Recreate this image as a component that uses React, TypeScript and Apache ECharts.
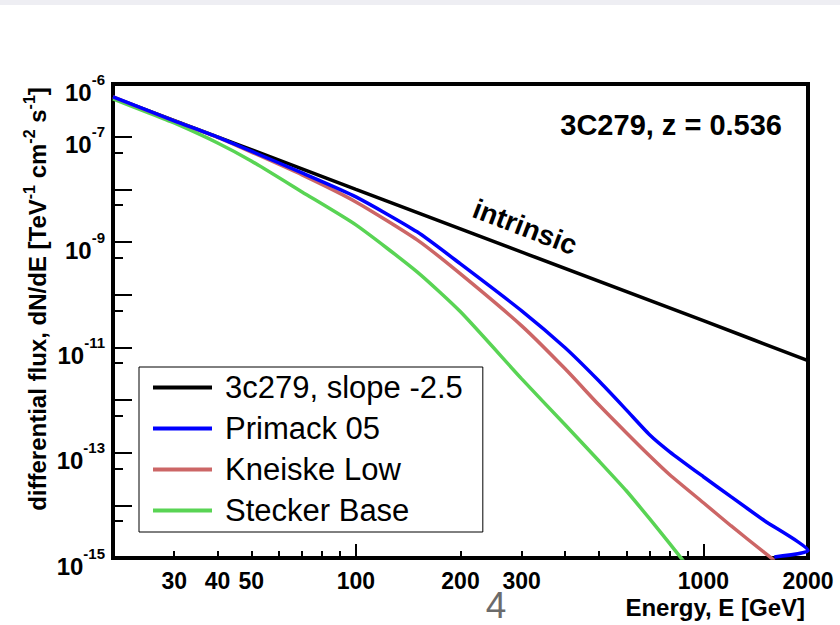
import React, { useEffect, useRef } from "react";
import * as echarts from "echarts";

const FONT = '"Liberation Sans", Arial, Helvetica, sans-serif';

// Energy (GeV) and differential flux (TeV^-1 cm^-2 s^-1)
const intrinsicE = [20, 100, 1000, 2000];
const intrinsicFlux = [5.6e-7, 1.0e-8, 3.2e-11, 5.6e-12];

const primackE = [20, 30, 40, 50, 70, 100, 150, 200, 300, 400, 500, 600, 700, 800, 1000, 1200, 1500, 2000, 1600];
const primackFlux = [5.67e-7, 2.0e-7, 9.8e-8, 5.3e-8, 2.05e-8, 7.2e-9, 1.56e-9, 3.84e-10, 4.93e-11, 9.79e-12, 2.31e-12, 6.5e-13, 2.19e-13, 1.04e-13, 3.49e-14, 1.46e-14, 5.1e-15, 1.38e-15, 1.05e-15];

const kneiskeE = [20, 30, 40, 50, 70, 100, 150, 200, 300, 400, 500, 600, 700, 800, 1000, 1200, 1500, 1600];
const kneiskeFlux = [5.67e-7, 1.99e-7, 9.7e-8, 5.1e-8, 1.88e-8, 5.77e-9, 1.1e-9, 2.48e-10, 2.56e-11, 3.91e-12, 8.11e-13, 2.39e-13, 8.73e-14, 3.81e-14, 1.12e-14, 4.1e-15, 1.26e-15, 9e-16];

const steckerE = [20, 25, 30, 40, 50, 70, 100, 150, 200, 300, 400, 500, 600, 700, 800, 900];
const steckerFlux = [5.2e-7, 2.94e-7, 1.82e-7, 7.59e-8, 3.46e-8, 8.93e-9, 2.11e-9, 2.71e-10, 4.72e-11, 2.52e-12, 3.38e-13, 7.01e-14, 1.89e-14, 5.57e-15, 1.87e-15, 7e-16];

const seriesNames = ["3c279, slope -2.5", "Primack 05", "Kneiske Low", "Stecker Base"];

// Axis ticks and labels
const xLabelValues = [30, 40, 50, 100, 200, 300, 1000, 2000];
const xMajorTicks = [100, 1000];
const xMinorTicks = [30, 40, 50, 60, 70, 80, 90, 200, 300, 400, 500, 600, 700, 800, 900];
const yLabelValues = [1e-15, 1e-13, 1e-11, 1e-9, 1e-7, 1e-6];
const yMajorTicks = [1e-15, 1e-14, 1e-13, 1e-12, 1e-11, 1e-10, 1e-9, 1e-8, 1e-7, 1e-6];
const yMinorTicks = [5e-15, 5e-14, 5e-13, 5e-12, 5e-11, 5e-10, 5e-9, 5e-8];

const pairs = (xs: number[], ys: number[]) => xs.map((x, i) => [x, ys[i]]);

export default function App() {
  const ref = useRef<HTMLDivElement>(null);

  useEffect(() => {
    const chart = echarts.init(ref.current as HTMLDivElement, null, { renderer: "svg" });

    const tickStyle = { color: "#000", width: 2 };
    const baseX = {
      type: "log",
      logBase: 10,
      min: 20,
      max: 2000,
      position: "bottom",
      gridIndex: 0,
      axisLine: { show: false },
      splitLine: { show: false },
      minorTick: { show: false },
    };
    const baseY = {
      type: "log",
      logBase: 10,
      min: 1e-15,
      max: 1e-6,
      position: "left",
      gridIndex: 0,
      axisLine: { show: false },
      splitLine: { show: false },
      minorTick: { show: false },
    };
    const lineSeries = (name: string, xs: number[], ys: number[], color: string, z: number) => ({
      name,
      type: "line",
      data: pairs(xs, ys),
      symbol: "none",
      smooth: 0.2,
      color,
      lineStyle: { color, width: 3.5 },
      silent: true,
      z,
    });

    const option: any = {
      animation: false,
      backgroundColor: "#ffffff",
      grid: {
        left: 113,
        top: 84,
        right: 32,
        bottom: 67,
        show: true,
        borderColor: "#000",
        borderWidth: 4,
        backgroundColor: "transparent",
        containLabel: false,
        outerBoundsMode: "none",
      },
      legend: {
        data: seriesNames,
        orient: "vertical",
        left: 139,
        top: 367,
        padding: [5, 20, 6, 14],
        itemGap: 10,
        itemWidth: 59,
        itemHeight: 4,
        icon: "rect",
        borderColor: "#000",
        borderWidth: 1,
        backgroundColor: "#fff",
        selectedMode: false,
        textStyle: { fontSize: 31, fontFamily: FONT, color: "#000", lineHeight: 31, padding: [0, 0, 0, 8] },
      },
      xAxis: [
        {
          ...baseX,
          axisTick: { show: true, inside: true, length: 14, lineStyle: tickStyle, customValues: xMajorTicks },
          axisLabel: {
            show: true,
            customValues: xLabelValues,
            margin: 11,
            color: "#000",
            fontSize: 23,
            fontWeight: "bold",
            fontFamily: FONT,
            formatter: (v: number) => String(Math.round(v)),
          },
        },
        {
          ...baseX,
          axisTick: { show: true, inside: true, length: 7, lineStyle: tickStyle, customValues: xMinorTicks },
          axisLabel: { show: false },
        },
      ],
      yAxis: [
        {
          ...baseY,
          axisTick: { show: true, inside: true, length: 19, lineStyle: tickStyle, customValues: yMajorTicks },
          axisLabel: {
            show: true,
            customValues: yLabelValues,
            margin: 8,
            color: "#000",
            formatter: (v: number) => `{b|10}{s|${Math.round(Math.log10(v))}}`,
            rich: {
              b: { fontSize: 24, fontWeight: "bold", fontFamily: FONT, color: "#000", lineHeight: 24, padding: [16, 0, 0, 0] },
              s: { fontSize: 15, fontWeight: "bold", fontFamily: FONT, color: "#000", lineHeight: 15, padding: [0, 0, 10, 0] },
            },
          },
        },
        {
          ...baseY,
          axisTick: { show: true, inside: true, length: 10, lineStyle: tickStyle, customValues: yMinorTicks },
          axisLabel: { show: false },
        },
      ],
      series: [
        lineSeries(seriesNames[0], intrinsicE, intrinsicFlux, "#000000", 2),
        lineSeries(seriesNames[3], steckerE, steckerFlux, "#59d454", 3),
        lineSeries(seriesNames[2], kneiskeE, kneiskeFlux, "#cc6666", 4),
        lineSeries(seriesNames[1], primackE, primackFlux, "#0000ff", 5),
      ],
      graphic: [
        { type: "rect", shape: { x: 0, y: 0, width: 840, height: 5 }, style: { fill: "#eeeef3" }, silent: true },
        {
          type: "text",
          x: 782,
          y: 125,
          style: { text: "3C279, z = 0.536", fontSize: 29, fontWeight: "bold", fontFamily: FONT, fill: "#000", align: "right", verticalAlign: "middle" },
        },
        {
          type: "text",
          x: 525,
          y: 227,
          rotation: (-21 * Math.PI) / 180,
          style: { text: "intrinsic", fontSize: 28, fontWeight: "bold", fontFamily: FONT, fill: "#000", align: "center", verticalAlign: "middle" },
        },
        {
          type: "text",
          x: 37,
          y: 299,
          rotation: Math.PI / 2,
          style: {
            text: "{b|differential flux, dN/dE [TeV}{s|-1}{b| cm}{s|-2}{b| s}{s|-1}{b|]}",
            align: "center",
            verticalAlign: "middle",
            rich: {
              b: { fontSize: 24, fontWeight: "bold", fontFamily: FONT, fill: "#000", lineHeight: 24 },
              s: { fontSize: 16, fontWeight: "bold", fontFamily: FONT, fill: "#000", lineHeight: 16, padding: [0, 0, 16, 0] },
            },
          },
        },
        {
          type: "text",
          x: 805,
          y: 607,
          style: { text: "Energy, E [GeV]", fontSize: 24, fontWeight: "bold", fontFamily: FONT, fill: "#000", align: "right", verticalAlign: "middle" },
        },
        {
          type: "text",
          x: 496,
          y: 605,
          style: { text: "4", fontSize: 37, fontFamily: FONT, fill: "#6b6b6b", align: "center", verticalAlign: "middle" },
        },
      ],
    };

    chart.setOption(option);
    return () => chart.dispose();
  }, []);

  return (
    <div
      ref={ref}
      style={{ position: "fixed", left: 0, top: 0, width: 840, height: 625, background: "#fff" }}
    />
  );
}
